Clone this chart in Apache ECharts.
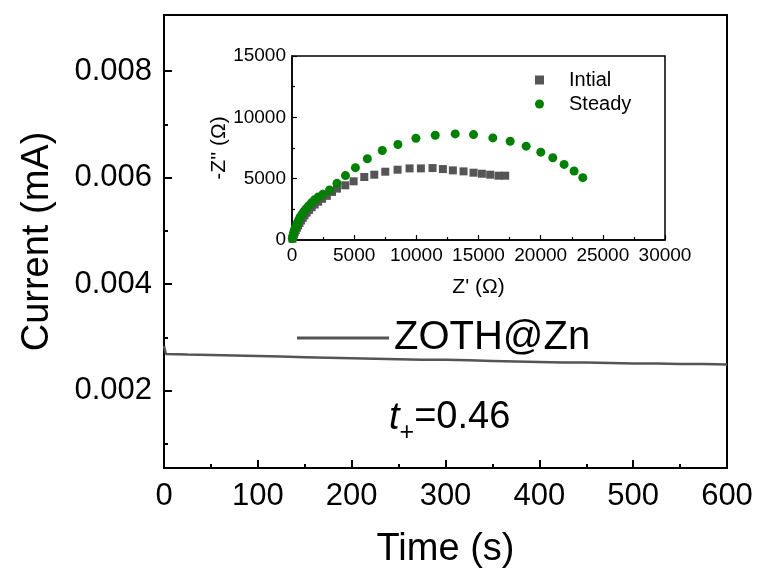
<!DOCTYPE html>
<html>
<head>
<meta charset="utf-8">
<script src="https://cdn.jsdelivr.net/npm/echarts@6/dist/echarts.min.js"></script>
<style>html,body{margin:0;padding:0;background:#fff;}#c{width:758px;height:570px;}</style>
</head>
<body>
<div id="c"></div>
<script>
// Main chart: current vs time
const timeS = [0, 2, 25, 50, 75, 100, 125, 150, 175, 200, 225, 250, 275, 300, 325, 350, 375, 400, 425, 450, 475, 500, 525, 550, 575, 600];
const currentMA = [0.00284, 0.00269, 0.00268, 0.00267, 0.00266, 0.00265, 0.00264, 0.00263, 0.00262, 0.00261, 0.00260, 0.00259, 0.00258, 0.00258, 0.00257, 0.00256, 0.00255, 0.00254, 0.00253, 0.00253, 0.00252, 0.00251, 0.00251, 0.00250, 0.00250, 0.00249];
const yMajorTicks = [0.002, 0.004, 0.006, 0.008];
const yMinorTicks = [0.001, 0.003, 0.005, 0.007];

// Inset: Nyquist plots [Z', -Z'']
const initialZ = [[40,100],[90,280],[150,460],[220,640],[300,820],[390,1000],[490,1190],[600,1390],[720,1590],[860,1800],[1010,2010],[1180,2230],[1370,2450],[1580,2670],[1820,2890],[2100,3120],[2420,3360],[2800,3600],[3215,3919],[3616,4189],[4286,4459],[4956,4784],[5813,5135],[6617,5324],[7501,5568],[8492,5730],[9456,5838],[10367,5838],[11305,5865],[12135,5784],[12939,5676],[13796,5595],[14600,5486],[15270,5405],[15939,5324],[16609,5243],[17145,5243]];
const steadyZ = [[30,120],[70,330],[120,540],[180,750],[250,960],[330,1170],[420,1380],[520,1600],[640,1830],[780,2060],[940,2300],[1120,2540],[1330,2780],[1560,3030],[1820,3280],[2100,3500],[2480,3720],[3020,4080],[3620,4620],[4300,5250],[5100,5900],[6060,6620],[7260,7297],[8519,7784],[9965,8297],[11519,8541],[13126,8649],[14600,8595],[16153,8324],[17546,8054],[18832,7649],[20011,7162],[20975,6703],[21886,6162],[22690,5622],[23386,5081]];

const FONT = 'Liberation Sans, Arial, sans-serif';
const chart = echarts.init(document.getElementById('c'), null, {renderer: 'canvas'});

const option = {
  backgroundColor: '#fff',
  animation: false,
  grid: [
    {left: 164, right: 31, top: 15, bottom: 102, show: true, borderColor: '#000', borderWidth: 2, containLabel: false, outerBoundsMode: 'none'},
    {left: 292, right: 93, top: 56, bottom: 330, show: true, borderColor: '#000', borderWidth: 1.5, backgroundColor: '#fff', containLabel: false, outerBoundsMode: 'none'}
  ],
  xAxis: [
    {
      type: 'value', gridIndex: 0, min: 0, max: 600, interval: 100,
      name: 'Time (s)', nameLocation: 'middle', nameGap: 63,
      nameTextStyle: {fontFamily: FONT, fontSize: 38, color: '#000'},
      axisLine: {lineStyle: {color: '#000', width: 2}},
      axisTick: {inside: true, length: 8, lineStyle: {color: '#000', width: 2}},
      minorTick: {show: true, splitNumber: 2, length: 4, lineStyle: {color: '#000', width: 2}},
      splitLine: {show: false},
      axisLabel: {fontFamily: FONT, fontSize: 31, color: '#000', margin: 13, showMinLabel: true, showMaxLabel: true}
    },
    {
      type: 'value', gridIndex: 1, min: 0, max: 30000, interval: 5000,
      name: "Z' (Ω)", nameLocation: 'middle', nameGap: 37,
      nameTextStyle: {fontFamily: FONT, fontSize: 21, color: '#000'},
      axisLine: {lineStyle: {color: '#000', width: 1.5}},
      axisTick: {inside: true, length: 5, lineStyle: {color: '#000', width: 1.2}},
      minorTick: {show: true, splitNumber: 2, length: 3, lineStyle: {color: '#000', width: 1.2}},
      splitLine: {show: false},
      axisLabel: {fontFamily: FONT, fontSize: 19, color: '#000', margin: 6, showMinLabel: true, showMaxLabel: true,
        formatter: v => String(v)}
    }
  ],
  yAxis: [
    {
      type: 'value', gridIndex: 0, min: 0.00055, max: 0.00905,
      name: 'Current (mA)', nameLocation: 'middle', nameGap: 107,
      nameTextStyle: {fontFamily: FONT, fontSize: 38, color: '#000'},
      axisLine: {lineStyle: {color: '#000', width: 2}},
      axisTick: {inside: true, length: 8, customValues: yMajorTicks, lineStyle: {color: '#000', width: 2}},
      splitLine: {show: false},
      axisLabel: {fontFamily: FONT, fontSize: 31, color: '#000', margin: 12, customValues: yMajorTicks,
        formatter: v => v.toFixed(3)}
    },
    {
      type: 'value', gridIndex: 0, min: 0.00055, max: 0.00905, position: 'left',
      axisLine: {show: false},
      axisTick: {show: true, inside: true, length: 4, customValues: yMinorTicks, lineStyle: {color: '#000', width: 2}},
      axisLabel: {show: false, customValues: yMinorTicks},
      splitLine: {show: false}
    },
    {
      type: 'value', gridIndex: 1, min: 0, max: 15000, interval: 5000,
      name: "-Z'' (Ω)", nameLocation: 'middle', nameGap: 52,
      nameTextStyle: {fontFamily: FONT, fontSize: 21, color: '#000'},
      axisLine: {lineStyle: {color: '#000', width: 1.5}},
      axisTick: {inside: true, length: 5, lineStyle: {color: '#000', width: 1.2}},
      minorTick: {show: true, splitNumber: 2, length: 3, lineStyle: {color: '#000', width: 1.2}},
      splitLine: {show: false},
      axisLabel: {fontFamily: FONT, fontSize: 19, color: '#000', margin: 6, showMinLabel: true, showMaxLabel: true,
        formatter: v => String(v)}
    }
  ],
  legend: [
    {
      data: ['ZOTH@Zn'], left: 292, top: 313, itemWidth: 92, itemHeight: 3, itemGap: 0,
      icon: 'rect',
      textStyle: {fontFamily: FONT, fontSize: 40, color: '#000'}
    },
    {
      data: [{name: 'Intial', icon: 'rect'}, {name: 'Steady', icon: 'circle'}],
      orient: 'vertical', left: 530, top: 65, itemWidth: 9, itemHeight: 9, itemGap: 4,
      textStyle: {fontFamily: FONT, fontSize: 20, color: '#000', padding: [0, 0, 0, 20]}
    }
  ],
  series: [
    {
      name: 'ZOTH@Zn', type: 'line', xAxisIndex: 0, yAxisIndex: 0,
      data: timeS.map((t, i) => [t, currentMA[i]]),
      symbol: 'none', lineStyle: {color: '#555', width: 2.5}, itemStyle: {color: '#555'}
    },
    {
      name: 'Intial', type: 'scatter', xAxisIndex: 1, yAxisIndex: 2,
      data: initialZ, symbol: 'rect', symbolSize: 8, itemStyle: {color: '#555', opacity: 1}
    },
    {
      name: 'Steady', type: 'scatter', xAxisIndex: 1, yAxisIndex: 2,
      data: steadyZ, symbol: 'circle', symbolSize: 9, itemStyle: {color: '#008000', opacity: 1}
    }
  ],
  graphic: [
    {
      type: 'text', left: 389, top: 399,
      style: {
        text: '{t|t}{s|+}{n|=0.46}',
        fontFamily: FONT,
        rich: {
          t: {fontFamily: FONT, fontSize: 38, fontStyle: 'italic', color: '#000', lineHeight: 40, verticalAlign: 'middle'},
          s: {fontFamily: FONT, fontSize: 25, color: '#000', lineHeight: 56, verticalAlign: 'bottom'},
          n: {fontFamily: FONT, fontSize: 38, color: '#000', lineHeight: 40, verticalAlign: 'middle'}
        }
      }
    }
  ]
};
chart.setOption(option);
</script>
</body>
</html>
